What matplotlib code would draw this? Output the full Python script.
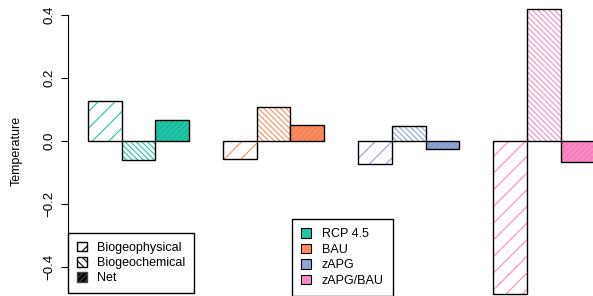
import numpy as np
import matplotlib.pyplot as plt
from matplotlib.patches import Patch
from matplotlib.colors import to_rgb

plt.rcParams['font.family'] = ['Liberation Sans', 'DejaVu Sans']
plt.rcParams['hatch.linewidth'] = 0.8

# Data
scenarios = ['RCP 4.5', 'BAU', 'zAPG', 'zAPG/BAU']
colors = ['#1fc6a8', '#ff8c5f', '#8fa5d5', '#ff88c8']
components = ['Biogeophysical', 'Biogeochemical', 'Net']
biogeophysical = [0.127, -0.058, -0.074, -0.486]
biogeochemical = [-0.060, 0.109, 0.048, 0.418]
net = [0.067, 0.051, -0.026, -0.068]

W, H = 593, 296
fig = plt.figure(figsize=(W / 100, H / 100), dpi=100)
ax = fig.add_axes([68 / W, 0, 1 - 68 / W, 1])


def darker(c, f=0.9):
    r, g, b = to_rgb(c)
    return (r * f, g * f, b * f)


series = [biogeophysical, biogeochemical, net]
for g, col in enumerate(colors):
    for j, vals in enumerate(series):
        x = 1 + 4 * g + j
        v = vals[g]
        if j == 0:
            ax.bar(x, v, width=1, align='edge', facecolor='white',
                   edgecolor=col, linewidth=0, hatch='//')
        elif j == 1:
            ax.bar(x, v, width=1, align='edge', facecolor='white',
                   edgecolor=col, linewidth=0, hatch='\\\\\\\\\\\\')
        else:
            ax.bar(x, v, width=1, align='edge', facecolor=col,
                   edgecolor=darker(col), linewidth=0, hatch='//////')
        ax.bar(x, v, width=1, align='edge', fill=False,
               edgecolor='black', linewidth=1)

ax.set_xlim(0.417, 15.95)
ax.set_ylim((141 - 296) / 315, 141 / 315)

for s in ['top', 'right', 'bottom']:
    ax.spines[s].set_visible(False)
ax.spines['left'].set_bounds(-0.4, 0.4)
ax.set_xticks([])
ax.set_yticks([-0.4, -0.2, 0.0, 0.2, 0.4])
ax.set_yticklabels(['\u22120.4', '\u22120.2', '0.0', '0.2', '0.4'])
ax.tick_params(axis='y', labelrotation=90, labelsize=9.5, length=5, pad=4)
for lab in ax.get_yticklabels():
    lab.set_va('center')

fig.text(17 / W, 1 - 151 / H, 'Temperature', rotation=90,
         ha='center', va='center', fontsize=9)

# Legends
h1 = [Patch(facecolor='white', edgecolor='black', hatch='//'),
      Patch(facecolor='white', edgecolor='black', hatch='\\\\\\\\'),
      Patch(facecolor='black', edgecolor='#444444', hatch='//////')]
leg1 = fig.legend(h1, components, loc='upper left',
                  bbox_to_anchor=(68 / W, 1 - 233 / H), borderaxespad=0,
                  fancybox=False, edgecolor='black', framealpha=1,
                  fontsize=9, handlelength=0.8, handleheight=0.8,
                  handletextpad=0.85, labelspacing=0.25, borderpad=0.7)
leg1.get_frame().set_linewidth(1)

h2 = [Patch(facecolor=c, edgecolor='black', linewidth=0.8) for c in colors]
leg2 = fig.legend(h2, scenarios, loc='upper left',
                  bbox_to_anchor=(292 / W, 1 - 219 / H), borderaxespad=0,
                  fancybox=False, edgecolor='black', framealpha=1,
                  fontsize=9, handlelength=0.8, handleheight=0.8,
                  handletextpad=0.85, labelspacing=0.27, borderpad=0.72)
leg2.get_frame().set_linewidth(1)

fig.savefig('out.png', dpi=100)
